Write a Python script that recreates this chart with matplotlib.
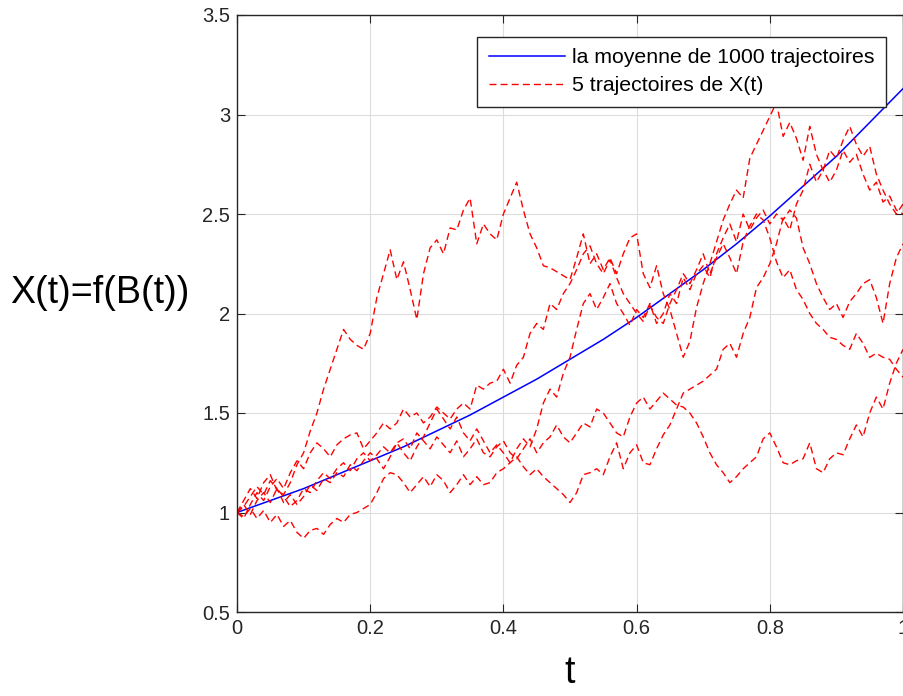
import matplotlib
matplotlib.use("Agg")
import matplotlib.pyplot as plt
import numpy as np

# time grid of the 5 trajectories (step 0.01) and the mean curve (step 0.05)
t_traj = np.linspace(0, 1, 101)
t_mean = np.linspace(0, 1, 21)

# mean of 1000 trajectories
mean_vals = [1.00, 1.06, 1.12, 1.19, 1.26, 1.33, 1.41, 1.49, 1.58, 1.67, 1.77,
             1.87, 1.98, 2.10, 2.22, 2.35, 2.49, 2.64, 2.79, 2.96, 3.13]

# five sample paths of X(t)
traj_a = [1.00, 1.06, 1.12, 1.07, 1.15, 1.19, 1.11, 1.09, 1.15, 1.24,
          1.30, 1.41, 1.50, 1.62, 1.72, 1.82, 1.92, 1.87, 1.84, 1.82,
          1.90, 2.08, 2.20, 2.32, 2.17, 2.26, 2.12, 1.97, 2.20, 2.33,
          2.37, 2.30, 2.43, 2.42, 2.52, 2.58, 2.35, 2.45, 2.40, 2.37,
          2.50, 2.58, 2.66, 2.52, 2.40, 2.33, 2.24, 2.23, 2.21, 2.19,
          2.17, 2.28, 2.40, 2.25, 2.30, 2.22, 2.28, 2.20, 2.30, 2.38,
          2.40, 2.20, 2.13, 2.24, 2.10, 2.02, 1.90, 1.78, 1.86, 2.03,
          2.15, 2.25, 2.36, 2.47, 2.55, 2.62, 2.58, 2.78, 2.85, 2.92,
          2.99, 3.06, 2.89, 2.96, 2.88, 2.77, 2.94, 2.80, 2.72, 2.66,
          2.72, 2.82, 2.76, 2.80, 2.70, 2.62, 2.66, 2.56, 2.59, 2.52,
          2.50]
traj_b = [1.00, 0.97, 1.04, 1.10, 1.06, 1.13, 1.17, 1.12, 1.20, 1.26,
          1.22, 1.30, 1.35, 1.32, 1.28, 1.34, 1.37, 1.39, 1.40, 1.32,
          1.36, 1.40, 1.45, 1.42, 1.45, 1.52, 1.48, 1.50, 1.45, 1.48,
          1.53, 1.50, 1.47, 1.52, 1.55, 1.52, 1.64, 1.62, 1.65, 1.66,
          1.72, 1.65, 1.74, 1.78, 1.90, 1.95, 1.92, 2.05, 2.02, 2.10,
          2.15, 2.22, 2.30, 2.34, 2.25, 2.20, 2.27, 2.18, 2.10, 2.05,
          2.00, 1.96, 2.04, 1.98, 1.95, 2.05, 2.12, 2.20, 2.15, 2.22,
          2.30, 2.20, 2.28, 2.35, 2.28, 2.20, 2.36, 2.44, 2.50, 2.47,
          2.38, 2.26, 2.18, 2.22, 2.12, 2.07, 2.00, 1.95, 1.92, 1.88,
          1.87, 1.84, 1.82, 1.90, 1.85, 1.78, 1.80, 1.78, 1.77, 1.72,
          1.68]
traj_c = [1.00, 0.98, 1.02, 0.97, 1.01, 0.95, 0.99, 0.93, 0.96, 0.90,
          0.87, 0.91, 0.92, 0.89, 0.94, 0.97, 0.95, 0.99, 1.00, 1.02,
          1.04, 1.10, 1.17, 1.20, 1.19, 1.15, 1.10, 1.14, 1.18, 1.13,
          1.19, 1.16, 1.10, 1.14, 1.19, 1.14, 1.18, 1.14, 1.15, 1.20,
          1.22, 1.25, 1.28, 1.23, 1.19, 1.22, 1.18, 1.15, 1.12, 1.09,
          1.05, 1.10, 1.19, 1.20, 1.22, 1.19, 1.28, 1.35, 1.22, 1.30,
          1.34, 1.25, 1.24, 1.32, 1.39, 1.44, 1.52, 1.60, 1.62, 1.64,
          1.66, 1.69, 1.72, 1.82, 1.85, 1.78, 1.90, 1.98, 2.13, 2.18,
          2.25, 2.35, 2.48, 2.42, 2.55, 2.62, 2.75, 2.66, 2.72, 2.82,
          2.78, 2.87, 2.94, 2.85, 2.79, 2.84, 2.70, 2.62, 2.55, 2.50,
          2.55]
traj_d = [1.00, 1.04, 0.99, 1.06, 1.10, 1.05, 1.12, 1.08, 1.03, 1.06,
          1.12, 1.10, 1.16, 1.20, 1.17, 1.22, 1.25, 1.21, 1.27, 1.30,
          1.26, 1.29, 1.33, 1.30, 1.35, 1.37, 1.32, 1.40, 1.36, 1.32,
          1.38, 1.34, 1.30, 1.36, 1.28, 1.32, 1.37, 1.30, 1.28, 1.33,
          1.36, 1.30, 1.27, 1.32, 1.37, 1.30, 1.35, 1.38, 1.44, 1.38,
          1.35, 1.40, 1.45, 1.43, 1.52, 1.50, 1.45, 1.40, 1.38, 1.48,
          1.55, 1.58, 1.52, 1.56, 1.60, 1.57, 1.54, 1.53, 1.50, 1.45,
          1.38, 1.30, 1.24, 1.20, 1.15, 1.18, 1.22, 1.25, 1.28, 1.37,
          1.40, 1.33, 1.25, 1.24, 1.26, 1.27, 1.35, 1.22, 1.20, 1.27,
          1.30, 1.29, 1.37, 1.44, 1.38, 1.50, 1.58, 1.52, 1.65, 1.75,
          1.82]
traj_e = [1.00, 1.03, 1.08, 1.13, 1.09, 1.16, 1.12, 1.05, 1.09, 1.04,
          1.08, 1.14, 1.11, 1.17, 1.15, 1.20, 1.18, 1.24, 1.21, 1.26,
          1.30, 1.27, 1.22, 1.28, 1.35, 1.30, 1.26, 1.33, 1.38, 1.45,
          1.52, 1.47, 1.42, 1.48, 1.40, 1.36, 1.42, 1.36, 1.30, 1.34,
          1.30, 1.25, 1.32, 1.37, 1.33, 1.42, 1.55, 1.62, 1.58, 1.70,
          1.78, 1.92, 2.05, 2.10, 2.02, 2.08, 2.15, 2.05, 2.00, 1.94,
          2.02, 1.98, 2.05, 1.95, 2.00, 2.10, 2.05, 2.18, 2.12, 2.20,
          2.24, 2.18, 2.30, 2.38, 2.45, 2.36, 2.50, 2.42, 2.48, 2.52,
          2.45, 2.50, 2.47, 2.52, 2.48, 2.33, 2.25, 2.15, 2.08, 2.02,
          2.05, 1.98, 2.06, 2.10, 2.15, 2.17, 2.08, 1.95, 2.15, 2.28,
          2.35]

x_ticks = [0, 0.2, 0.4, 0.6, 0.8, 1]
y_ticks = [0.5, 1, 1.5, 2, 2.5, 3, 3.5]

plt.rcParams['font.family'] = ['Liberation Sans', 'DejaVu Sans']

fig = plt.figure(figsize=(9.04, 6.96), dpi=100)
ax = fig.add_axes([237 / 904, 84 / 696, 666 / 904, 597 / 696])

# blue mean curve
ax.plot(t_mean, mean_vals, color='#0000ff', lw=1.1,
        label='la moyenne de 1000 trajectoires')
# red dashed sample paths, only the first one goes in the legend
for i, path in enumerate([traj_a, traj_b, traj_c, traj_d, traj_e]):
    ax.plot(t_traj, path, color='#ff0000', lw=1.0, dashes=(5, 3),
            label='5 trajectoires de X(t)' if i == 0 else None)

ax.set_xlim(0, 1)
ax.set_ylim(0.5, 3.5)
ax.set_xticks(x_ticks)
ax.set_xticklabels(['0', '0.2', '0.4', '0.6', '0.8', '1'])
ax.set_yticks(y_ticks)
ax.set_yticklabels(['0.5', '1', '1.5', '2', '2.5', '3', '3.5'])
ax.tick_params(direction='in', top=True, right=True, length=6,
               labelsize=14.5, colors='#262626', pad=5)
ax.grid(True, color='#dcdcdc', lw=0.8)
for s in ax.spines.values():
    s.set_color('#262626')
    s.set_linewidth(1.0)

ax.set_xlabel('t', fontsize=27, labelpad=12)
ax.set_ylabel('X(t)=f(B(t))', fontsize=27, rotation=0, labelpad=0)
ax.yaxis.set_label_coords(-0.206, 0.505)
ax.yaxis.label.set_horizontalalignment('center')

leg = ax.legend(loc='upper right', bbox_to_anchor=(0.9745, 0.9635),
                borderaxespad=0, fontsize=15.3, handlelength=3.6,
                handletextpad=0.3, labelspacing=0.42, borderpad=0.55,
                fancybox=False, framealpha=1, edgecolor='#262626')
leg.get_frame().set_linewidth(1.0)

fig.savefig('out.png', dpi=100)
